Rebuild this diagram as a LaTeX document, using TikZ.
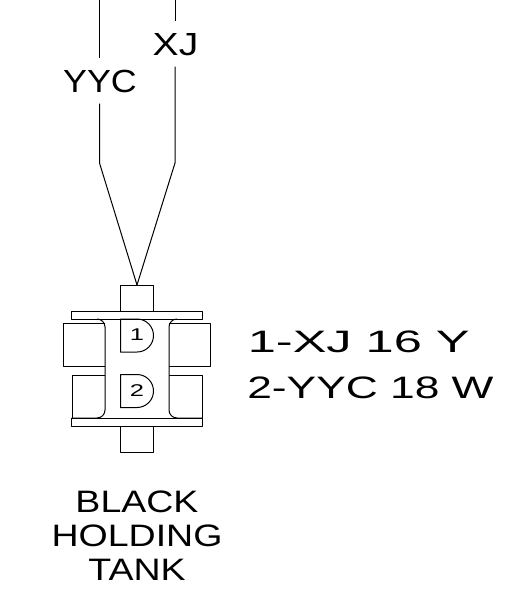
\documentclass[tikz,border=0pt]{standalone}
\usepackage{fontspec}
\setmainfont{Liberation Sans}
\tikzset{
  wirelabel/.style={font=\fontsize{32}{32}\selectfont, inner xsep=0pt, inner ysep=11pt, text height=23pt, text depth=0pt},
  pinlabel/.style={font=\fontsize{17}{17}\selectfont, xscale=1.5, inner sep=0pt},
  notelabel/.style={font=\fontsize{31}{31}\selectfont, inner sep=0pt, anchor=base west},
  tanklabel/.style={font=\fontsize{31}{34}\selectfont, xscale=1.21, inner sep=0pt, align=center},
  part/.style={draw, line width=1pt, line join=round},
  wire/.style={draw, line width=1pt}
}
\begin{document}
\begin{tikzpicture}[x=1pt, y=-1pt]
  \useasboundingbox (0,0) rectangle (524,613);
  % wires
  \node[wirelabel, xscale=1.12] (yyc) at (100,81) {YYC};
  \node[wirelabel, xscale=1.22] (xj) at (175.5,44) {XJ};
  \coordinate (yyctop) at (99.5,0);
  \coordinate (xjtop) at (175,0);
  \coordinate (yycbend) at (99.5,163);
  \coordinate (xjbend) at (175,163);
  \coordinate (tip) at (137,285);
  \draw[wire] (yyctop) -- (yyctop |- yyc.north);
  \draw[wire] (xjtop) -- (xjtop |- xj.north);
  \draw[wire] (yycbend |- yyc.south) -- (yycbend) -- (tip);
  \draw[wire] (xjbend |- xj.south) -- (xjbend) -- (tip);
  % connector body
  \draw[part] (120.5,311) -- (120.5,285) -- (153.5,285) -- (153.5,311);
  \draw[part] (71.5,311) rectangle (202.5,319);
  \draw[part] (71.5,418) rectangle (202.5,426);
  \draw[part] (120.5,426) -- (120.5,452) -- (153.5,452) -- (153.5,426);
  % body sides
  \draw[part] (97,319) arc[start angle=-90, end angle=0, radius=8] -- (105,410) arc[start angle=0, end angle=90, radius=8] -- (71.5,418);
  \draw[part] (177,319) arc[start angle=-90, end angle=-180, radius=8] -- (169,410) arc[start angle=180, end angle=90, radius=8] -- (202.5,418);
  % tabs
  \draw[part] (105,366) -- (63.5,366) -- (63.5,323) -- (105,323);
  \draw[part] (105,375) -- (72,375) -- (72,418);
  \draw[part] (169,366) -- (210.5,366) -- (210.5,323) -- (169,323);
  \draw[part] (169,375) -- (202.5,375) -- (202.5,418);
  % pins
  \draw[part] (120.5,319) -- (137,319) arc[start angle=-90, end angle=90, radius=16.5] -- (120.5,352) -- cycle;
  \draw[part] (120.5,374.5) -- (137,374.5) arc[start angle=-90, end angle=90, radius=16.5] -- (120.5,407.5) -- cycle;
  \node[pinlabel] (pinone) at (137,335) {1};
  \node[pinlabel] (pintwo) at (137,390.7) {2};
  % notes
  \node[notelabel, xscale=1.63] (noteone) at (247.5,352) {1-XJ 16 Y};
  \node[notelabel, xscale=1.43] (notetwo) at (247,398) {2-YYC 18 W};
  \node[tanklabel] (tank) at (137,536) {BLACK\\HOLDING\\TANK};
\end{tikzpicture}
\end{document}
